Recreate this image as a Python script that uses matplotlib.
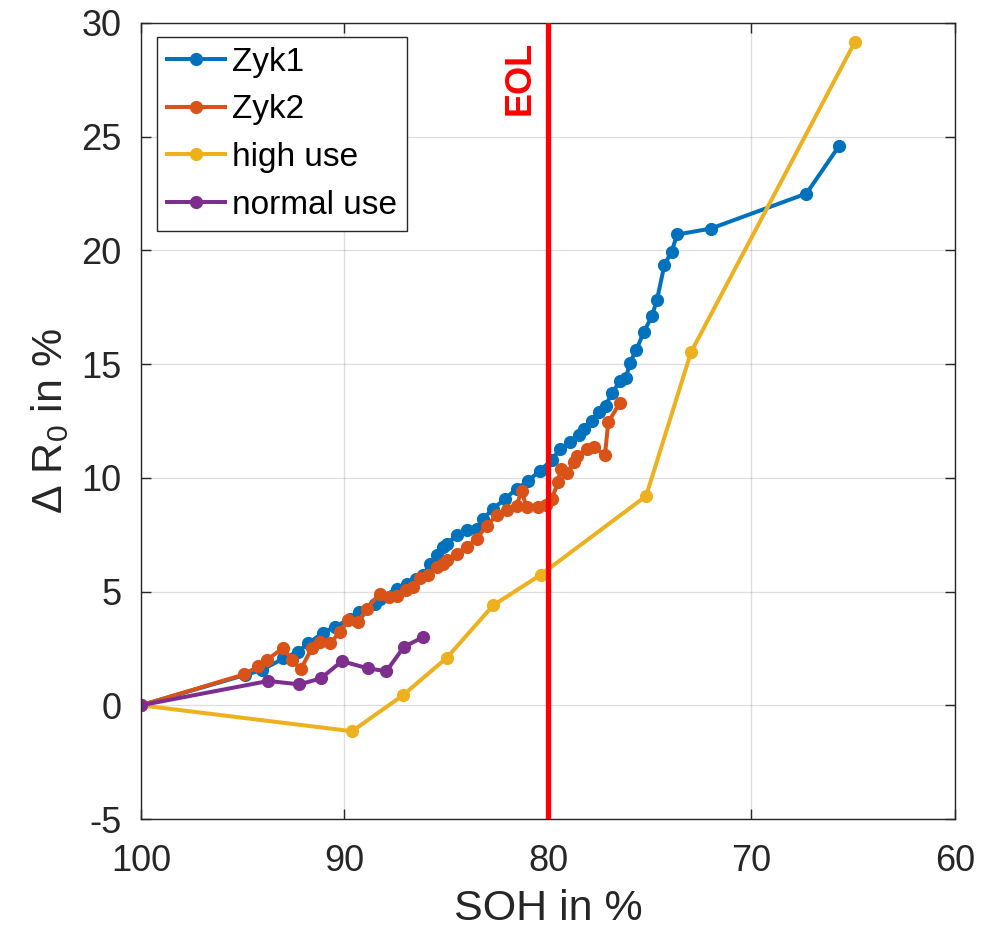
import matplotlib
matplotlib.use('Agg')
from matplotlib import pyplot as plt

plt.rcParams['font.family'] = ['Liberation Sans', 'DejaVu Sans']
plt.rcParams['mathtext.default'] = 'regular'
plt.rcParams['axes.unicode_minus'] = False

# SOH (%) and delta R0 (%) per test series
zyk1_soh = [100, 94.9, 94.07, 93.0, 92.3, 91.78, 91.04, 90.47, 89.73, 89.3, 88.5, 88.26,
            87.44, 86.95, 86.5, 86.13, 85.8, 85.47, 85.15, 84.98, 84.49, 84.0, 83.5, 83.19,
            82.7, 82.11, 81.54, 80.96, 80.39, 79.8, 79.41, 78.92, 78.5, 78.24, 77.83, 77.5,
            77.17, 76.85, 76.44, 76.16, 75.98, 75.67, 75.3, 74.9, 74.65, 74.28, 73.93, 73.65,
            72.0, 67.3, 65.69]
zyk1_dr = [0, 1.33, 1.55, 2.06, 2.35, 2.72, 3.2, 3.45, 3.8, 4.1, 4.47, 4.69,
           5.13, 5.35, 5.55, 5.72, 6.23, 6.59, 6.96, 7.1, 7.47, 7.69, 7.76, 8.2,
           8.64, 9.08, 9.52, 9.88, 10.32, 10.8, 11.27, 11.58, 11.9, 12.15, 12.5, 12.9,
           13.17, 13.75, 14.27, 14.4, 15.07, 15.6, 16.4, 17.1, 17.8, 19.36, 19.94, 20.7,
           20.96, 22.5, 24.6]

zyk2_soh = [100, 94.92, 94.23, 93.82, 93.0, 92.6, 92.15, 91.61, 91.2, 90.71, 90.22, 89.81,
            89.32, 88.91, 88.26, 87.8, 87.44, 87.0, 86.62, 86.3, 85.9, 85.47, 85.15, 84.98,
            84.49, 84.0, 83.5, 83.02, 82.53, 82.03, 81.54, 81.3, 81.05, 80.47, 80.1, 79.82,
            79.5, 79.38, 79.06, 78.7, 78.56, 78.07, 77.74, 77.2, 77.04, 76.47]
zyk2_dr = [0, 1.36, 1.72, 1.99, 2.53, 2.0, 1.58, 2.5, 2.79, 2.72, 3.23, 3.74,
           3.67, 4.25, 4.91, 4.75, 4.8, 5.05, 5.2, 5.6, 5.72, 6.1, 6.23, 6.37,
           6.67, 6.96, 7.32, 7.9, 8.35, 8.57, 8.78, 9.44, 8.7, 8.71, 8.8, 9.08,
           9.8, 10.4, 10.2, 10.7, 10.98, 11.27, 11.35, 11.0, 12.44, 13.3]

high_soh = [100, 89.63, 87.13, 84.96, 82.7, 80.34, 75.18, 72.97, 64.91]
high_dr = [0, -1.14, 0.44, 2.1, 4.39, 5.75, 9.2, 15.53, 29.18]

normal_soh = [100, 93.74, 92.22, 91.17, 90.13, 88.83, 87.94, 87.08, 86.13]
normal_dr = [0, 1.07, 0.92, 1.18, 1.94, 1.62, 1.5, 2.57, 3.0]

eol_soh = 80

fig = plt.figure(figsize=(9.84, 9.34), dpi=100)
ax = fig.add_axes([0.1433, 0.1231, 0.8272, 0.8523])

kw = dict(lw=2.9, marker='o', ms=9.5, mew=0)
ax.plot(zyk1_soh, zyk1_dr, color=(0, 0.447, 0.741), label='Zyk1', **kw)
ax.plot(zyk2_soh, zyk2_dr, color=(0.85, 0.325, 0.098), label='Zyk2', **kw)
ax.plot(high_soh, high_dr, color=(0.929, 0.694, 0.125), label='high use', **kw)
ax.plot(normal_soh, normal_dr, color=(0.494, 0.184, 0.556), label='normal use', **kw)

ax.axvline(eol_soh, color='red', lw=3.8, zorder=5)
ax.text(81.35, 27.6, 'EOL', color='red', fontsize=26, fontweight='bold',
        rotation=90, ha='center', va='center')

ax.set_xlim(100, 60)
ax.set_ylim(-5, 30)
ax.set_xticks([100, 90, 80, 70, 60])
ax.set_yticks(range(-5, 31, 5))
ax.grid(True, color=(0.15, 0.15, 0.15), alpha=0.15, lw=1)
ax.set_axisbelow(True)

dark = (0.15, 0.15, 0.15)
ax.tick_params(direction='in', length=7, width=1, top=True, right=True,
               labelsize=26, colors=dark)
ax.tick_params(axis='x', pad=18)
ax.tick_params(axis='y', pad=14)
for s in ax.spines.values():
    s.set_color(dark)
    s.set_linewidth(1)

ax.set_xlabel('SOH in %', fontsize=31, color=dark)
ax.set_ylabel('Δ R$_0$ in %', fontsize=31, color=dark)
ax.xaxis.set_label_coords(0.5, -0.088)
ax.yaxis.set_label_coords(-0.086, 0.5)

leg = ax.legend(loc='upper left', bbox_to_anchor=(0.0197, 0.983), borderaxespad=0,
                fontsize=24, fancybox=False, edgecolor=dark,
                handlelength=1.75, handletextpad=0.2, labelspacing=0.5,
                borderpad=0.3, framealpha=1)
leg.get_frame().set_linewidth(1)

fig.savefig('out.png', dpi=100)
